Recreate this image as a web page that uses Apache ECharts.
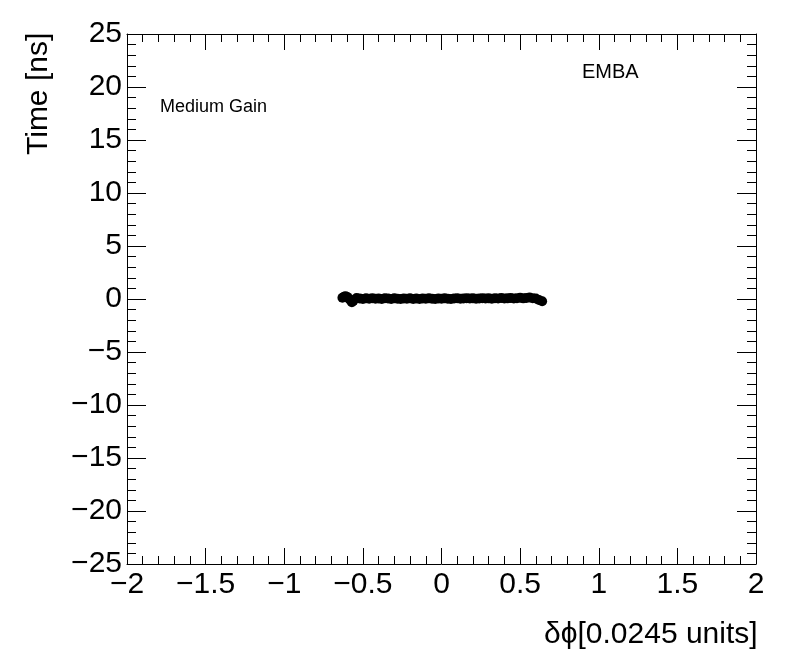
<!DOCTYPE html>
<html>
<head>
<meta charset="utf-8">
<script src="https://cdn.jsdelivr.net/npm/echarts@6/dist/echarts.min.js"></script>
<style>
html,body{margin:0;padding:0;background:#fff;}
#main{width:796px;height:672px;}
</style>
</head>
<body>
<div id="main"></div>
<script>
// Data
const phiValues = [-0.63,-0.62,-0.61,-0.60,-0.59,-0.58,-0.57,-0.56,-0.54,-0.52,-0.50,-0.48,-0.46,-0.44,-0.42,-0.40,-0.38,-0.36,-0.34,-0.32,-0.30,-0.28,-0.26,-0.24,-0.22,-0.20,-0.18,-0.16,-0.14,-0.12,-0.10,-0.08,-0.06,-0.04,-0.02,0.00,0.02,0.04,0.06,0.08,0.10,0.12,0.14,0.16,0.18,0.20,0.22,0.24,0.26,0.28,0.30,0.32,0.34,0.36,0.38,0.40,0.42,0.44,0.46,0.48,0.50,0.52,0.54,0.56,0.58,0.60,0.62,0.64];
const timeValues = [0.12,0.22,0.25,0.20,0.05,-0.10,-0.30,-0.15,0.10,0.05,0.00,0.06,0.03,0.08,0.02,0.05,0.00,0.07,0.04,0.01,0.06,0.03,0.00,0.05,0.02,0.06,0.01,0.04,0.00,0.05,0.02,0.06,0.03,0.00,0.04,0.02,0.06,0.03,0.00,0.05,0.07,0.03,0.05,0.08,0.04,0.06,0.02,0.05,0.08,0.04,0.06,0.03,0.07,0.05,0.09,0.04,0.06,0.10,0.05,0.08,0.12,0.06,0.10,0.14,0.08,0.05,-0.10,-0.22];
const xTitle = 'δϕ[0.0245 units]';
const yTitle = 'Time [ns]';
const gainLabel = 'Medium Gain';
const regionLabel = 'EMBA';

const FONT = 'Liberation Sans, Arial, Helvetica, sans-serif';
const points = phiValues.map((p, i) => [p, timeValues[i]]);
const fmt = v => String(Math.round(v * 10) / 10).replace('-', '\u2212');

const chart = echarts.init(document.getElementById('main'), null, {renderer: 'canvas'});

const baseX = {
  type: 'value', min: -2, max: 2, interval: 0.5,
  axisLine: {show: true, onZero: false, lineStyle: {color: '#000', width: 1}},
  axisTick: {show: true, inside: true, length: 16, lineStyle: {color: '#000', width: 1}},
  minorTick: {show: true, splitNumber: 5, length: 8, lineStyle: {color: '#000', width: 1}},
  splitLine: {show: false}
};
const baseY = {
  type: 'value', min: -25, max: 25, interval: 5,
  axisLine: {show: true, onZero: false, lineStyle: {color: '#000', width: 1}},
  axisTick: {show: true, inside: true, length: 19, lineStyle: {color: '#000', width: 1}},
  minorTick: {show: true, splitNumber: 5, length: 9, lineStyle: {color: '#000', width: 1}},
  splitLine: {show: false}
};

chart.setOption({
  animation: false,
  backgroundColor: '#fff',
  grid: {left: 127, top: 34, width: 629, height: 530},
  xAxis: [
    Object.assign({}, baseX, {position: 'bottom',
      axisLabel: {show: true, color: '#000', fontFamily: FONT, fontSize: 30, margin: 6, formatter: fmt}}),
    Object.assign({}, baseX, {position: 'top', axisLabel: {show: false}})
  ],
  yAxis: [
    Object.assign({}, baseY, {position: 'left',
      axisLabel: {show: true, color: '#000', fontFamily: FONT, fontSize: 30, margin: 5, formatter: fmt}}),
    Object.assign({}, baseY, {position: 'right', axisLabel: {show: false}})
  ],
  series: [{
    type: 'scatter',
    xAxisIndex: 0, yAxisIndex: 0,
    data: points,
    symbol: 'circle',
    symbolSize: 10,
    itemStyle: {color: '#000', opacity: 1}
  }],
  graphic: [
    {type: 'text', left: 544, top: 620,
      style: {text: xTitle, font: '30px ' + FONT, fill: '#000'}},
    {type: 'text', x: 24, y: 155, rotation: Math.PI / 2,
      style: {text: yTitle, font: '30px ' + FONT, fill: '#000', textAlign: 'left', textVerticalAlign: 'top'}},
    {type: 'text', left: 160, top: 98,
      style: {text: gainLabel, font: '18px ' + FONT, fill: '#000'}},
    {type: 'text', left: 582, top: 62,
      style: {text: regionLabel, font: '20px ' + FONT, fill: '#000'}}
  ]
});
</script>
</body>
</html>
